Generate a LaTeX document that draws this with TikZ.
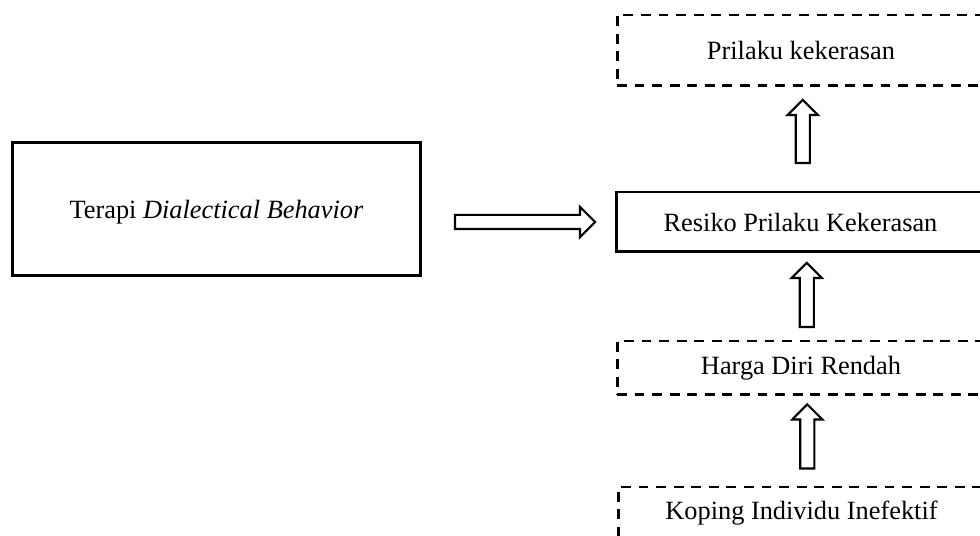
\documentclass[tikz,border=0pt]{standalone}
\usepackage{fontspec}
\setmainfont{Liberation Serif}
\usetikzlibrary{shapes.arrows,calc}
\begin{document}
\begin{tikzpicture}[x=0.02cm, y=-0.02cm,
    every node/.style={font=\fontsize{15}{18}\selectfont},
    solidbox/.style={draw, line width=1.7pt, rectangle, inner sep=0pt},
    dashbox/.style={draw, line width=1.7pt, dash pattern=on 5.6pt off 4.4pt, rectangle, inner sep=0pt},
    blockarrow/.style={draw, line width=1.2pt, fill=white, single arrow, single arrow head extend=0.16cm,
      inner xsep=0pt, inner ysep=0.12cm, minimum width=0pt}]
  \useasboundingbox (0,0) rectangle (980,536);

  % kotak intervensi
  \node[solidbox, minimum width=8.18cm, minimum height=2.68cm] (therapy) at (216.5,209) {\raisebox{-2pt}[\height][\depth]{Terapi \textit{Dialectical Behavior}}};

  % kotak masalah (kanan)
  \node[dashbox, minimum width=7.36cm, minimum height=1.42cm] (act) at (801,50.5) {Prilaku kekerasan};
  \node[solidbox, minimum width=7.38cm, minimum height=1.2cm] (risk) at (800.5,222) {Resiko Prilaku Kekerasan};
  \node[dashbox, minimum width=7.36cm, minimum height=1.08cm] (self) at (801,368) {Harga Diri Rendah};
  \node[dashbox, minimum width=7.34cm, minimum height=1.04cm] (coping) at (801.5,513) {Koping Individu Inefektif};

  % panah
  \node[blockarrow, minimum height=2.8cm] (harr) at ($(therapy.east)!0.5!(risk.west)+(3,6.5)$) {};
  \node[blockarrow, minimum height=1.26cm, rotate=90] (arr1) at ($(act.south)!0.5!(risk.north)+(2,-4)$) {};
  \node[blockarrow, minimum height=1.28cm, rotate=90] (arr2) at ($(risk.south)!0.5!(self.north)+(6,2)$) {};
  \node[blockarrow, minimum height=1.28cm, rotate=90] (arr3) at ($(self.south)!0.5!(coping.north)+(6,-1)$) {};
\end{tikzpicture}
\end{document}
